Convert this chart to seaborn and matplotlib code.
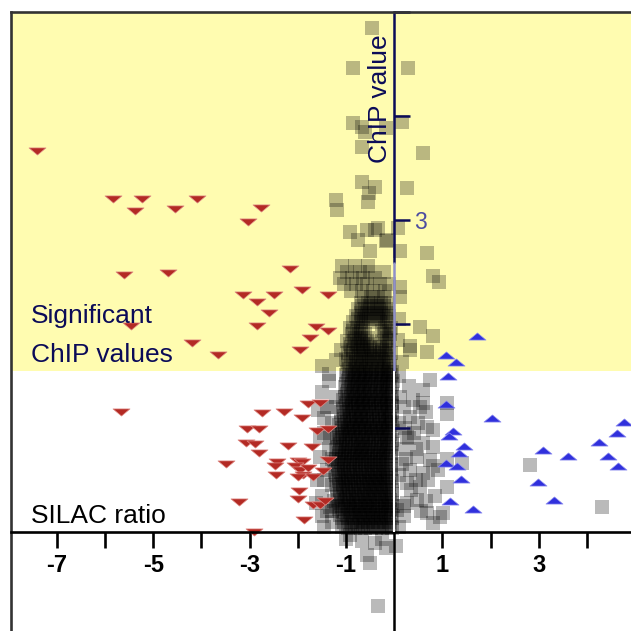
import matplotlib
matplotlib.use("Agg")
import matplotlib.pyplot as plt
import pandas as pd
import seaborn as sns
from matplotlib.path import Path
from matplotlib.ticker import FixedLocator, FixedFormatter

# dense core of proteins: one row of SILAC ratios per ChIP level
core_y = [0.04, 0.10, 0.16, 0.22, 0.28, 0.34, 0.40, 0.46, 0.52, 0.58, 0.64, 0.70,
          0.76, 0.82, 0.88, 0.94, 1.00, 1.06, 1.12, 1.18, 1.24, 1.30, 1.36, 1.42,
          1.48, 1.54, 1.60, 1.66, 1.72, 1.78, 1.84, 1.90, 1.96, 2.02, 2.08, 2.14,
          2.20, 2.26, 2.32, 2.38, 2.44, 2.50, 2.56]
core_x = [
    [-0.95, -0.82, -0.7, -0.6, -0.48, -0.37, -0.25, -0.14, -0.05],
    [-1.05, -0.9, -0.78, -0.66, -0.55, -0.44, -0.33, -0.21, -0.1],
    [-1.12, -0.98, -0.86, -0.74, -0.62, -0.5, -0.39, -0.28, -0.17, -0.06],
    [-1.15, -1.02, -0.9, -0.79, -0.67, -0.55, -0.44, -0.32, -0.2, -0.08],
    [-1.1, -0.97, -0.85, -0.73, -0.61, -0.5, -0.38, -0.26, -0.15, -0.04],
    [-1.18, -1.05, -0.93, -0.8, -0.68, -0.56, -0.45, -0.33, -0.21, -0.1],
    [-1.12, -1.0, -0.87, -0.75, -0.63, -0.51, -0.4, -0.28, -0.16, -0.05],
    [-1.2, -1.07, -0.95, -0.83, -0.7, -0.58, -0.46, -0.35, -0.23, -0.11],
    [-1.15, -1.02, -0.9, -0.77, -0.65, -0.53, -0.41, -0.3, -0.18, -0.06],
    [-1.22, -1.1, -0.97, -0.85, -0.72, -0.6, -0.48, -0.36, -0.24, -0.12],
    [-1.16, -1.04, -0.92, -0.8, -0.67, -0.55, -0.43, -0.31, -0.19, -0.07],
    [-1.2, -1.08, -0.96, -0.84, -0.72, -0.6, -0.48, -0.36, -0.24, -0.12],
    [-1.14, -1.02, -0.9, -0.78, -0.66, -0.54, -0.42, -0.3, -0.18, -0.06],
    [-1.18, -1.06, -0.94, -0.82, -0.7, -0.58, -0.46, -0.34, -0.22, -0.1],
    [-1.12, -1.0, -0.88, -0.76, -0.64, -0.52, -0.4, -0.28, -0.16, -0.05],
    [-1.15, -1.03, -0.91, -0.79, -0.67, -0.55, -0.43, -0.31, -0.19, -0.08],
    [-1.08, -0.96, -0.84, -0.72, -0.6, -0.48, -0.36, -0.24, -0.12],
    [-1.1, -0.98, -0.86, -0.74, -0.62, -0.5, -0.38, -0.26, -0.14, -0.04],
    [-1.04, -0.92, -0.8, -0.68, -0.56, -0.44, -0.32, -0.2, -0.08],
    [-1.06, -0.94, -0.82, -0.7, -0.58, -0.46, -0.34, -0.22, -0.1],
    [-1.0, -0.88, -0.76, -0.64, -0.52, -0.4, -0.28, -0.16, -0.05],
    [-1.02, -0.9, -0.78, -0.66, -0.54, -0.42, -0.3, -0.18, -0.07],
    [-0.96, -0.84, -0.72, -0.6, -0.48, -0.36, -0.24, -0.12],
    [-1.0, -0.88, -0.76, -0.64, -0.52, -0.4, -0.28, -0.16, -0.05],
    [-0.94, -0.82, -0.7, -0.58, -0.46, -0.34, -0.22, -0.1],
    [-0.98, -0.86, -0.74, -0.62, -0.5, -0.38, -0.26, -0.14, -0.04],
    [-0.92, -0.78, -0.64, -0.5, -0.36, -0.22, -0.08],
    [-1.0, -0.85, -0.7, -0.56, -0.42, -0.28, -0.14],
    [-0.95, -0.8, -0.65, -0.5, -0.35, -0.2, -0.06],
    [-0.9, -0.76, -0.62, -0.48, -0.3, -0.16],
    [-0.98, -0.84, -0.7, -0.56, -0.25, -0.1],
    [-0.88, -0.74, -0.6, -0.22, -0.08],
    [-0.92, -0.78, -0.64, -0.2, -0.06],
    [-0.85, -0.7, -0.58, -0.3, -0.15],
    [-0.8, -0.66, -0.52, -0.38, -0.24, -0.1],
    [-0.75, -0.6, -0.46, -0.32, -0.18],
    [-0.7, -0.55, -0.42, -0.28, -0.14],
    [-0.62, -0.48, -0.34, -0.22],
    [-0.9, -0.66, -0.45, -0.2],
    [-1.05, -0.8, -0.56, -0.3, -0.1],
    [-1.12, -0.88, -0.64, -0.4],
    [-0.98, -0.72, -0.5, -0.22],
    [-1.08, -0.82, -0.55],
]

# second, staggered set of core rows
mid_y = [0.07, 0.13, 0.19, 0.25, 0.31, 0.37, 0.43, 0.49, 0.55, 0.61, 0.67, 0.73,
         0.79, 0.85, 0.91, 0.97, 1.03, 1.09, 1.15, 1.21, 1.27, 1.33, 1.39, 1.45,
         1.51, 1.57, 1.63, 1.69, 1.75, 1.81, 1.87, 1.93, 2.05, 2.11, 2.17]
mid_x = [
    [-1.0, -0.88, -0.76, -0.64, -0.54, -0.42, -0.31, -0.19, -0.08],
    [-1.08, -0.96, -0.84, -0.72, -0.6, -0.49, -0.38, -0.27, -0.15, -0.04],
    [-1.06, -0.92, -0.8, -0.68, -0.56, -0.45, -0.33, -0.22, -0.11],
    [-1.2, -1.08, -0.96, -0.84, -0.73, -0.61, -0.5, -0.38, -0.26, -0.14, -0.03],
    [-1.16, -1.03, -0.91, -0.79, -0.67, -0.55, -0.44, -0.32, -0.2, -0.09],
    [-1.12, -0.99, -0.86, -0.74, -0.62, -0.5, -0.39, -0.27, -0.15, -0.04],
    [-1.18, -1.06, -0.93, -0.81, -0.69, -0.57, -0.45, -0.34, -0.22, -0.1],
    [-1.14, -1.01, -0.89, -0.76, -0.64, -0.52, -0.41, -0.29, -0.17, -0.05],
    [-1.21, -1.08, -0.96, -0.83, -0.71, -0.59, -0.47, -0.36, -0.24, -0.12],
    [-1.16, -1.04, -0.91, -0.79, -0.66, -0.54, -0.42, -0.3, -0.18, -0.06],
    [-1.24, -1.1, -0.98, -0.86, -0.74, -0.61, -0.49, -0.37, -0.25, -0.13],
    [-1.14, -1.02, -0.9, -0.78, -0.66, -0.54, -0.42, -0.3, -0.18, -0.06],
    [-1.2, -1.08, -0.96, -0.84, -0.72, -0.6, -0.48, -0.36, -0.24, -0.12],
    [-1.12, -1.0, -0.88, -0.76, -0.64, -0.52, -0.4, -0.28, -0.16, -0.04],
    [-1.18, -1.06, -0.94, -0.82, -0.7, -0.58, -0.46, -0.34, -0.22, -0.1],
    [-1.09, -0.97, -0.85, -0.73, -0.61, -0.49, -0.37, -0.25, -0.13, -0.03],
    [-1.14, -1.02, -0.9, -0.78, -0.66, -0.54, -0.42, -0.3, -0.18, -0.07],
    [-1.04, -0.92, -0.8, -0.68, -0.56, -0.44, -0.32, -0.2, -0.08],
    [-1.1, -0.98, -0.86, -0.74, -0.62, -0.5, -0.38, -0.26, -0.14, -0.04],
    [-1.0, -0.88, -0.76, -0.64, -0.52, -0.4, -0.28, -0.16, -0.05],
    [-1.06, -0.94, -0.82, -0.7, -0.58, -0.46, -0.34, -0.22, -0.1],
    [-0.98, -0.86, -0.74, -0.62, -0.5, -0.38, -0.26, -0.14, -0.04],
    [-1.02, -0.9, -0.78, -0.66, -0.54, -0.42, -0.3, -0.18, -0.08],
    [-0.96, -0.84, -0.72, -0.6, -0.48, -0.36, -0.24, -0.12, -0.03],
    [-1.0, -0.88, -0.76, -0.64, -0.52, -0.4, -0.28, -0.16, -0.06],
    [-0.94, -0.82, -0.7, -0.58, -0.46, -0.34, -0.22, -0.1],
    [-0.96, -0.8, -0.66, -0.52, -0.38, -0.24, -0.1],
    [-0.9, -0.74, -0.6, -0.46, -0.32, -0.18],
    [-0.86, -0.7, -0.56, -0.42, -0.26, -0.1],
    [-0.92, -0.78, -0.64, -0.5, -0.2],
    [-0.82, -0.68, -0.55, -0.16],
    [-0.86, -0.7, -0.25, -0.1],
    [-0.76, -0.62, -0.48, -0.34, -0.2],
    [-0.7, -0.56, -0.42, -0.28, -0.14],
    [-0.66, -0.5, -0.36, -0.22],
]

# scattered proteins outside the core
other_x = [-0.46, -0.85, 0.29, -0.85, -0.66, -0.60, -0.17, 0.17, -0.66, 0.60,
           -0.66, -0.39, -0.52, -0.54, 0.27, -1.20, -1.18, -0.91, -0.56, -0.39,
           -0.33, -0.15, 0.08, -0.75, -0.50, 0.12, 0.68, 0.81, 0.93, -0.17,
           0.12, 0.12, 0.54, 0.81, 0.33, 0.68, 0.17, 0.33, 0.10, 0.08,
           0.75, 0.60, 0.39, 0.60, 0.54, 0.33, 0.68, 0.81, 0.27, 0.60,
           0.81, 0.48, 0.75, 0.33, 0.60, 0.81, 0.27, 0.54, 0.48, 0.27,
           0.95, 0.81, 0.68, 0.06, 1.10, 1.10, 1.41, 1.10, 1.02, 1.10,
           0.10, 0.12, 0.10, 0.15, 0.10, 0.20, 0.10, 0.40, 0.45, 0.65,
           0.20, 0.30, 0.25, 0.35, 0.20, 0.50, 0.45, 0.70, 0.55, 0.85,
           0.30, 0.90, 0.65, 0.15, 0.22,
           -1.35, -1.50, -1.40, -1.58, -1.30, -1.45, -1.33, -1.35, -1.55, -1.40,
           -1.30, -1.50, -1.40, -1.30, -1.60, -1.25, -1.25, -1.20, -1.62, -1.45,
           -1.33, -1.08, -1.50, -1.20, -1.35, -1.10,
           -1.30, -1.45, -1.30, -1.45, -1.30, -1.55, -1.50,
           -1.00, -0.66, -0.41, -0.17, 0.04, -0.56, -0.33, -0.91, -0.25, -0.50,
           2.82, 4.31]
other_y = [4.85, 4.46, 4.46, 3.93, 3.89, 3.85, 3.88, 3.94, 3.70, 3.64,
           3.37, 3.32, 3.26, 3.17, 3.31, 3.19, 3.10, 2.88, 2.90, 2.90,
           2.92, 2.81, 2.92, 2.81, 2.70, 2.70, 2.68, 2.46, 2.40, 2.80,
           2.36, 2.26, 1.97, 1.88, 1.75, 1.73, 1.63, 1.79, 2.05, 1.85,
           1.46, 1.37, 1.27, 1.24, 1.20, 1.11, 1.01, 0.98, 0.91, 0.86,
           0.82, 0.72, 0.69, 0.60, 0.57, 0.63, 0.47, 0.43, 0.31, 0.28,
           0.14, 0.09, 0.18, 0.21, 1.24, 1.13, 0.66, 0.43, 0.18, 0.70,
           1.50, 1.30, 1.05, 0.80, 0.55, 0.25, 0.05, 0.95, 0.50, 0.30,
           1.20, 0.90, 0.70, 0.40, 0.15, 1.05, 0.80, 0.50, 0.20, 0.35,
           1.40, 0.60, 1.15, 0.65, 1.00,
           1.45, 1.35, 1.20, 1.17, 1.05, 0.95, 0.93, 0.80, 0.72, 0.60,
           0.45, 0.35, 0.20, 0.10, 0.50, 0.30, 0.90, 1.30, 0.28, 0.05,
           0.24, 0.05, 1.60, 1.65, 1.52, 1.75,
           0.70, 0.50, 1.20, 1.10, 0.20, 0.90, 0.15,
           -0.07, -0.09, -0.11, -0.15, -0.13, -0.22, -0.71, -0.03, -0.07, -0.30,
           0.64, 0.24]

# significantly depleted (red) and enriched (blue) proteins
down_x = [-7.41, -5.83, -5.23, -5.37, -4.54, -4.09, -2.76, -3.03, -5.60, -4.69,
          -2.16, -3.13, -2.84, -2.49, -1.91, -1.37, -2.59, -5.46, -2.84, -1.62,
          -1.37, -1.74, -4.19, -3.65, -1.95, -5.66,
          -1.80, -1.54, -2.74, -2.28, -1.91, -3.05, -2.80, -1.60, -1.37, -3.07,
          -2.88, -2.20, -1.70, -2.80, -3.49, -2.43, -2.47, -2.45, -1.99, -1.91,
          -2.05, -1.95, -1.89, -1.99, -1.78, -1.68, -1.47, -1.37, -1.97, -3.22,
          -1.99, -1.68, -1.54, -1.43, -1.87, -2.90]
down_y = [3.66, 3.20, 3.20, 3.09, 3.11, 3.20, 3.12, 2.98, 2.47, 2.49,
          2.53, 2.28, 2.21, 2.28, 2.33, 2.28, 2.11, 1.98, 1.98, 1.97,
          1.93, 1.87, 1.82, 1.70, 1.75, 1.15,
          1.23, 1.24, 1.14, 1.15, 1.10, 0.99, 0.99, 0.97, 0.99, 0.86,
          0.85, 0.83, 0.82, 0.76, 0.65, 0.67, 0.63, 0.55, 0.68, 0.67,
          0.63, 0.60, 0.55, 0.53, 0.62, 0.53, 0.59, 0.69, 0.39, 0.29,
          0.32, 0.26, 0.26, 0.30, 0.12, 0.00]
up_x = [1.72, 1.08, 1.29, 1.12, 1.08, 2.03, 4.77, 4.61, 1.22, 1.14, 4.25, 1.45,
        3.09, 1.35, 3.61, 4.44, 1.08, 1.31, 4.65, 1.39, 2.99, 1.16, 3.32, 1.64]
up_y = [1.88, 1.70, 1.63, 1.50, 1.23, 1.10, 1.06, 0.95, 0.97, 0.92, 0.87, 0.83,
        0.79, 0.76, 0.73, 0.73, 0.66, 0.63, 0.63, 0.51, 0.48, 0.30, 0.31, 0.22]

x_ticks = [-7, -6, -5, -4, -3, -2, -1, 1, 2, 3, 4]
x_labels = ["-7", "", "-5", "", "-3", "", "-1", "1", "", "3", ""]
y_ticks = [1, 2, 3, 4, 5]
y_labels = ["", "", "3", "", ""]
threshold = 1.545

navy = "#0b0b58"
plt.rcParams["font.family"] = ["Liberation Sans", "DejaVu Sans"]

rows_y = core_y + mid_y
rows_x = core_x + mid_x
gray = pd.DataFrame({
    "silac": [x for xs in rows_x for x in xs] + other_x,
    "chip": [y for y, xs in zip(rows_y, rows_x) for _ in xs] + other_y,
})
down = pd.DataFrame({"silac": down_x, "chip": down_y})
up = pd.DataFrame({"silac": up_x, "chip": up_y})

tri_down = Path([(-1, 0.42), (1, 0.42), (0, -0.42), (-1, 0.42)], closed=True)
tri_up = Path([(-1, -0.42), (1, -0.42), (0, 0.42), (-1, -0.42)], closed=True)

fig = plt.figure(figsize=(6.31, 6.31), dpi=100)
ax = fig.add_axes([11 / 631, 0, 620 / 631, 619 / 631])
ax.set_xlim(-7.95, 4.91)
ax.set_ylim(-0.952, 5.0)

ax.axhspan(threshold, 5.0, color="#fffcb0", zorder=0, lw=0)

sns.scatterplot(data=gray, x="silac", y="chip", marker="s", s=88, color="black",
                alpha=0.27, linewidth=0, ax=ax, zorder=1)
sns.scatterplot(data=down, x="silac", y="chip", marker=tri_down, s=150,
                color="#b32a24", edgecolor="#e08c86", linewidth=0.5, ax=ax, zorder=2)
sns.scatterplot(data=up, x="silac", y="chip", marker=tri_up, s=150,
                color="#3030dc", edgecolor="#9090f0", linewidth=0.5, ax=ax, zorder=2)

# axes crossing at the origin
ax.spines["bottom"].set_position(("data", 0))
ax.spines["bottom"].set_linewidth(1.9)
ax.spines["bottom"].set_color("black")
ax.spines["right"].set_position(("data", 0))
ax.spines["right"].set_bounds(2.6, 5.0)
ax.spines["right"].set_color(navy)
ax.spines["right"].set_linewidth(1.8)
for side in ["left", "top"]:
    ax.spines[side].set_color("#333333")
    ax.spines[side].set_linewidth(1.9)
ax.vlines(0, threshold, 2.6, colors="#9090c8", lw=1.8, zorder=3)
ax.vlines(0, 0, threshold, colors="white", lw=1.5, zorder=3)
ax.vlines(0, -0.952, 0, colors="black", lw=1.8, zorder=3)

ax.xaxis.set_major_locator(FixedLocator(x_ticks))
ax.xaxis.set_major_formatter(FixedFormatter(x_labels))
ax.tick_params(axis="x", direction="out", length=11.5, width=1.9, pad=4,
               labelsize=17, colors="black")
for lab in ax.get_xticklabels():
    lab.set_fontweight("bold")

ax.yaxis.set_ticks_position("right")
ax.yaxis.set_major_locator(FixedLocator(y_ticks))
ax.yaxis.set_major_formatter(FixedFormatter(y_labels))
ax.tick_params(axis="y", direction="out", length=11.5, width=1.8, pad=3,
               labelsize=16.5, colors=navy, labelcolor="#4d4da0",
               labelright=True, labelleft=False)
for t, c in zip(ax.yaxis.get_major_ticks(), ["white", navy, navy, navy, navy]):
    t.tick2line.set_color(c)

ax.set_xlabel("")
ax.set_ylabel("")
ax.text(-0.29, 4.17, "ChIP value", rotation=90, ha="center", va="center",
        fontsize=19, color=navy)
ax.text(-7.53, 2.01, "Significant", fontsize=19, color=navy, va="baseline")
ax.text(-7.53, 1.63, "ChIP values", fontsize=19, color=navy, va="baseline")
ax.text(-7.53, 0.09, "SILAC ratio", fontsize=19, color="black", va="baseline")

fig.savefig("out.png", dpi=100)
